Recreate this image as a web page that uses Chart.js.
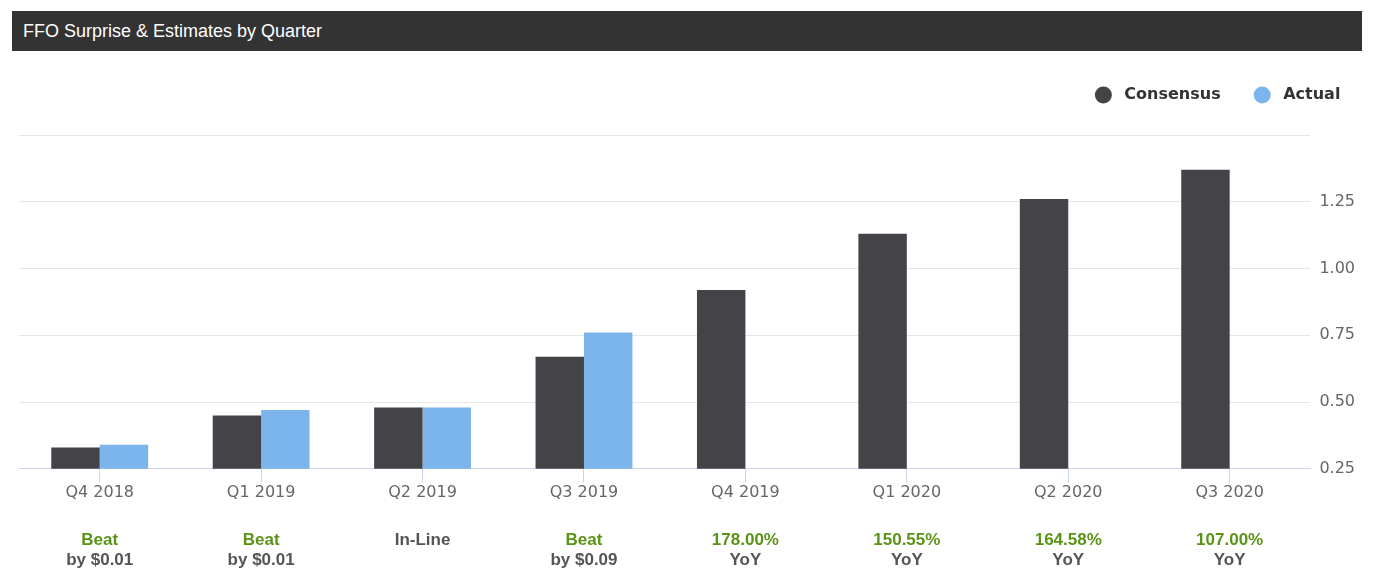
<!DOCTYPE html>
<html>
<head>
<meta charset="utf-8">
<script src="https://cdn.jsdelivr.net/npm/chart.js@4/dist/chart.umd.min.js"></script>
<style>
  html, body { margin: 0; padding: 0; background: #fff; }
  #wrap { position: relative; width: 1378px; height: 587px; }
  #titleBar {
    position: absolute; left: 12px; top: 11px; width: 1350px; height: 40px;
    background: #333; color: #fff; font: 18px "Liberation Sans", Arial, sans-serif;
    line-height: 40px; box-sizing: border-box; padding-left: 11px; z-index: 2;
  }
  #ffoChart { position: absolute; left: 0; top: 0; }
</style>
</head>
<body>
<div id="wrap">
  <div id="titleBar">FFO Surprise &amp; Estimates by Quarter</div>
  <canvas id="ffoChart" width="1378" height="587"></canvas>
</div>
<script>
// --- Data ---
const quarters = ["Q4 2018", "Q1 2019", "Q2 2019", "Q3 2019", "Q4 2019", "Q1 2020", "Q2 2020", "Q3 2020"];
const consensus = [0.33, 0.45, 0.48, 0.67, 0.92, 1.13, 1.26, 1.37];
const actual = [0.34, 0.47, 0.48, 0.76, null, null, null, null];
const surpriseTop = ["Beat", "Beat", "In-Line", "Beat", "178.00%", "150.55%", "164.58%", "107.00%"];
const surpriseBottom = ["by $0.01", "by $0.01", "", "by $0.09", "YoY", "YoY", "YoY", "YoY"];
const yTicks = [0.25, 0.50, 0.75, 1.00, 1.25, 1.50];

const GREEN = "#5b9317";
const GREY = "#555555";
const AXIS_FONT = "'DejaVu Sans', sans-serif";

// --- Plugins ---
// legend drawn top-right, above the plot
const topLegend = {
  id: "topLegend",
  afterDraw(chart) {
    const { ctx, chartArea } = chart;
    const items = chart.data.datasets;
    const r = 8.5, textGap = 21, itemGap = 33;
    ctx.save();
    ctx.font = "bold 16px " + AXIS_FONT;
    ctx.textBaseline = "middle";
    ctx.textAlign = "left";
    const y = chartArea.top - 40;
    let right = chartArea.right + 30;
    for (let i = items.length - 1; i >= 0; i--) {
      const w = ctx.measureText(items[i].label).width;
      const tx = right - w;
      const cx = tx - textGap;
      ctx.fillStyle = "#333";
      ctx.fillText(items[i].label, tx, y);
      ctx.fillStyle = items[i].backgroundColor;
      ctx.beginPath();
      ctx.arc(cx, y, r, 0, Math.PI * 2);
      ctx.fill();
      right = cx - r - itemGap;
    }
    ctx.restore();
  }
};

// surprise text under each quarter
const surpriseLabels = {
  id: "surpriseLabels",
  afterDraw(chart) {
    const { ctx, scales, chartArea } = chart;
    ctx.save();
    ctx.textAlign = "center";
    ctx.textBaseline = "middle";
    ctx.font = "bold 17px 'Liberation Sans', Arial, sans-serif";
    quarters.forEach((q, i) => {
      const x = scales.x.getPixelForTick(i);
      const top = surpriseTop[i];
      ctx.fillStyle = top === "In-Line" ? GREY : GREEN;
      ctx.fillText(top, x, chartArea.bottom + 72);
      if (surpriseBottom[i]) {
        ctx.fillStyle = GREY;
        ctx.fillText(surpriseBottom[i], x, chartArea.bottom + 92);
      }
    });
    ctx.restore();
  }
};

// --- Chart ---
new Chart(document.getElementById("ffoChart"), {
  type: "bar",
  data: {
    labels: quarters,
    datasets: [
      { label: "Consensus", data: consensus, backgroundColor: "#434348", borderWidth: 0 },
      { label: "Actual", data: actual, backgroundColor: "#7cb5ec", borderWidth: 0 }
    ]
  },
  options: {
    responsive: false,
    animation: false,
    layout: { padding: { top: 135, left: 19, right: 14, bottom: 85 } },
    datasets: { bar: { categoryPercentage: 0.6, barPercentage: 1.0 } },
    plugins: {
      tooltip: { enabled: false },
      legend: { display: false }
    },
    scales: {
      x: {
        grid: {
          display: true,
          drawOnChartArea: false,
          drawTicks: true,
          tickLength: 14,
          offset: false,
          color: "#ccd6eb"
        },
        border: { display: true, color: "#ccd6eb", width: 1 },
        ticks: {
          color: "#666",
          padding: 0,
          font: { family: AXIS_FONT, size: 16 }
        }
      },
      y: {
        position: "right",
        min: yTicks[0],
        max: yTicks[yTicks.length - 1],
        afterBuildTicks(axis) {
          axis.ticks = yTicks.map(v => ({ value: v }));
        },
        grid: { color: "#e6e6e6", drawTicks: false },
        border: { display: false },
        ticks: {
          color: "#666",
          padding: 9,
          font: { family: AXIS_FONT, size: 16 },
          callback: (v) => v === yTicks[yTicks.length - 1] ? "" : Number(v).toFixed(2)
        }
      }
    }
  },
  plugins: [topLegend, surpriseLabels]
});
</script>
</body>
</html>
